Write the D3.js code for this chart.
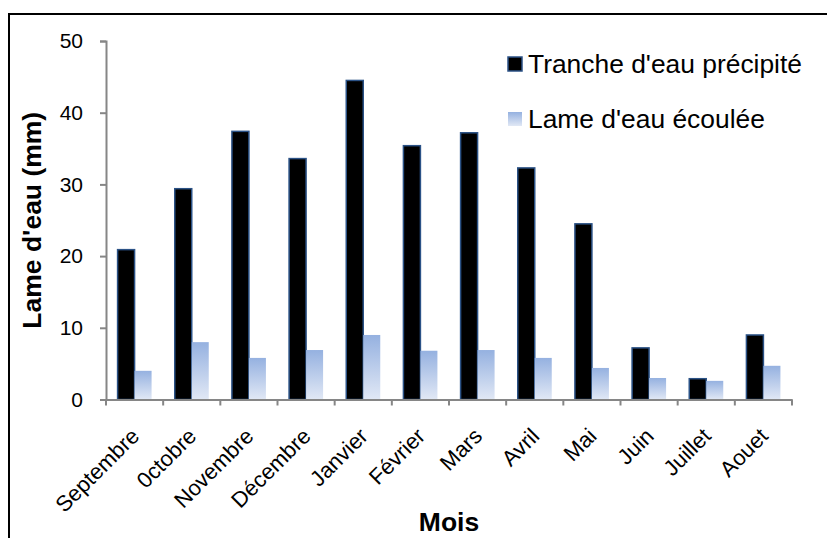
<!DOCTYPE html>
<html>
<head>
<meta charset="utf-8">
<script src="https://cdn.jsdelivr.net/npm/d3@7"></script>
<style>
  html, body { margin: 0; padding: 0; background: #fff; }
  svg { display: block; }
  text { font-family: "Liberation Sans", Arial, sans-serif; fill: #000; }
</style>
</head>
<body>
<svg id="chart" width="827" height="538"></svg>
<script>
const months = ["Septembre", "0ctobre", "Novembre", "Décembre", "Janvier", "Février", "Mars", "Avril", "Mai", "Juin", "Juillet", "Aouet"];
const precipite = [20.9, 29.4, 37.4, 33.6, 44.5, 35.4, 37.2, 32.3, 24.5, 7.2, 2.9, 9.0];
const ecoulee = [4.0, 8.0, 5.8, 6.9, 9.0, 6.8, 6.9, 5.8, 4.4, 3.0, 2.6, 4.7];
const yTicks = [0, 10, 20, 30, 40, 50];
const seriesNames = ["Tranche d'eau précipité", "Lame d'eau écoulée"];
const yTitle = "Lame d'eau (mm)";
const xTitle = "Mois";

const svg = d3.select("#chart");
const W = 827, H = 538;
svg.append("rect").attr("width", W).attr("height", H).attr("fill", "#fff");

const defs = svg.append("defs");
const grad = defs.append("linearGradient").attr("id", "blueGrad")
  .attr("x1", 0).attr("y1", 0).attr("x2", 0).attr("y2", 1);
grad.append("stop").attr("offset", "0%").attr("stop-color", "#95b1e0");
grad.append("stop").attr("offset", "100%").attr("stop-color", "#e1e8f5");

const gradL = defs.append("linearGradient").attr("id", "blueGradL")
  .attr("x1", 0).attr("y1", 0).attr("x2", 0).attr("y2", 1);
gradL.append("stop").attr("offset", "0%").attr("stop-color", "#95b1e0");
gradL.append("stop").attr("offset", "100%").attr("stop-color", "#e1e8f5");

// outer frame (top & left visible)
svg.append("path").attr("d", `M9,538 L9,14 L${W},14`)
  .attr("fill", "none").attr("stroke", "#000").attr("stroke-width", 2);

const plot = { left: 106, right: 792, top: 41, bottom: 399.5 };
const x = d3.scaleBand().domain(months).range([plot.left, plot.right]).padding(0);
const y = d3.scaleLinear().domain([0, 50]).range([plot.bottom, plot.top]);
const bw = 17;

// bars
const g = svg.append("g");
g.selectAll("rect.p").data(months).enter().append("rect")
  .attr("class", "p")
  .attr("x", d => x(d) + x.bandwidth() / 2 - bw)
  .attr("width", bw)
  .attr("y", (d, i) => y(precipite[i]))
  .attr("height", (d, i) => y(0) - y(precipite[i]))
  .attr("fill", "#000").attr("stroke", "#2b5286").attr("stroke-width", 1.5);

g.selectAll("rect.e").data(months).enter().append("rect")
  .attr("class", "e")
  .attr("x", d => x(d) + x.bandwidth() / 2)
  .attr("width", bw)
  .attr("y", (d, i) => y(ecoulee[i]))
  .attr("height", (d, i) => y(0) - y(ecoulee[i]))
  .attr("fill", "url(#blueGrad)");

// y axis
const yAxis = d3.axisLeft(y).tickValues(yTicks).tickSize(6).tickPadding(17).tickFormat(d3.format("d"));
const ya = svg.append("g").attr("transform", `translate(${plot.left},0)`).call(yAxis);
ya.select(".domain").attr("stroke", "#868686").attr("stroke-width", 2);
ya.selectAll(".tick line").attr("stroke", "#868686").attr("stroke-width", 2);
ya.selectAll(".tick text").attr("font-size", 21).attr("font-family", '"Liberation Sans", Arial, sans-serif').attr("fill", "#000");

// x axis
const xa = svg.append("g").attr("transform", `translate(0,${plot.bottom})`)
  .call(d3.axisBottom(x).tickSize(0).tickFormat(""));
xa.select(".domain").attr("stroke", "#868686").attr("stroke-width", 2);
// boundary ticks
const bounds = months.map(m => x(m)).concat([plot.right]);
xa.selectAll("line.bt").data(bounds).enter().append("line")
  .attr("class", "bt")
  .attr("x1", d => d).attr("x2", d => d)
  .attr("y1", 0).attr("y2", 6)
  .attr("stroke", "#868686").attr("stroke-width", 2);

// month labels
svg.append("g").selectAll("text").data(months).enter().append("text")
  .attr("transform", d => `translate(${x(d) + x.bandwidth() / 2 + 6},${plot.bottom + 38}) rotate(-45)`)
  .attr("text-anchor", "end")
  .attr("font-size", 22)
  .text(d => d);

// axis titles
svg.append("text")
  .attr("transform", `translate(41,${(plot.top + plot.bottom) / 2}) rotate(-90)`)
  .attr("text-anchor", "middle").attr("font-size", 26.5).attr("font-weight", "bold")
  .text(yTitle);
svg.append("text")
  .attr("x", (plot.left + plot.right) / 2).attr("y", 531)
  .attr("text-anchor", "middle").attr("font-size", 26.5).attr("font-weight", "bold")
  .text(xTitle);

// legend
const leg = svg.append("g");
const legY = [57, 112];
seriesNames.forEach((name, i) => {
  const r = leg.append("rect").attr("x", 508).attr("y", legY[i]).attr("width", 14).attr("height", 14);
  if (i === 0) r.attr("fill", "#000").attr("stroke", "#2b5286").attr("stroke-width", 1.5);
  else r.attr("fill", "url(#blueGradL)");
  leg.append("text").attr("x", 528).attr("y", legY[i] + 16).attr("font-size", 26.4).text(name);
});
</script>
</body>
</html>
